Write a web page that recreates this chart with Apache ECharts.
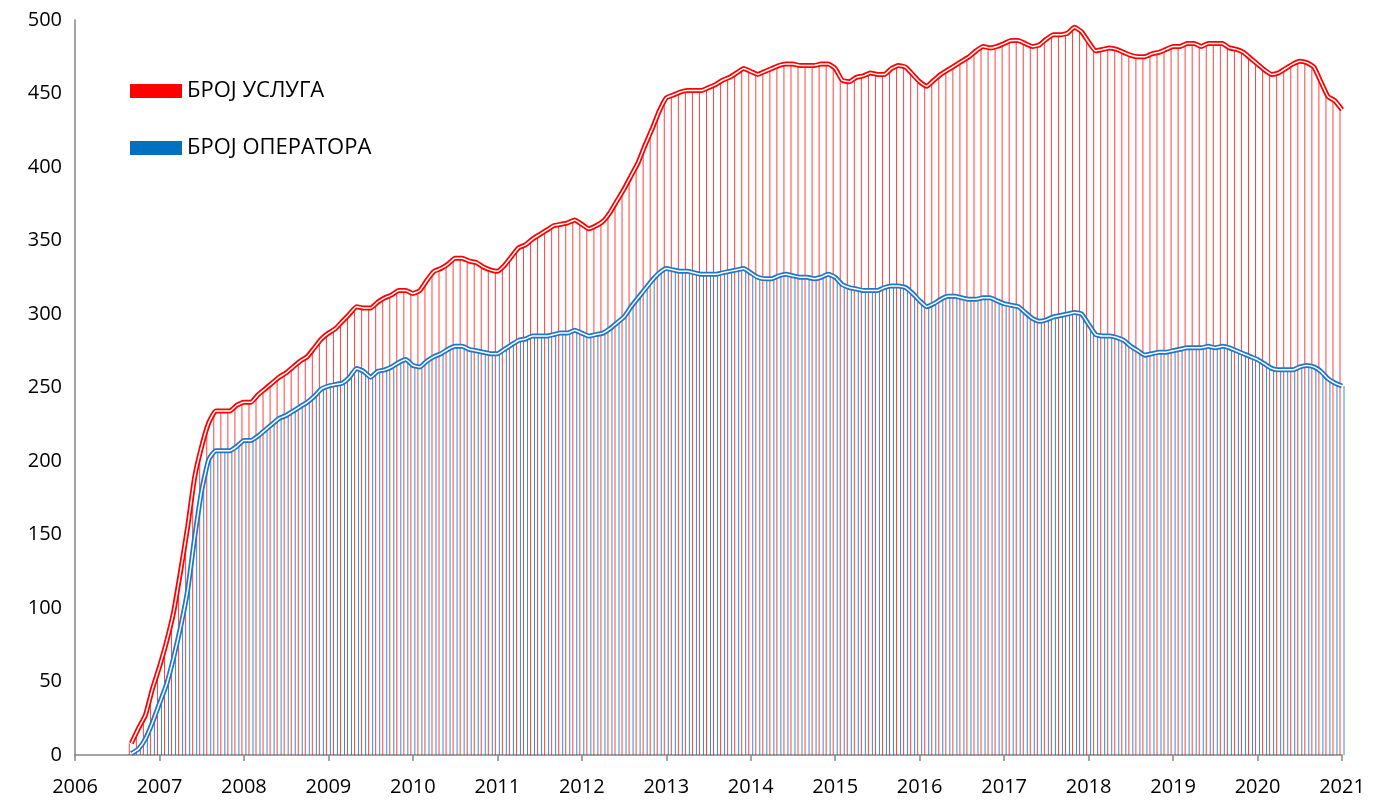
<!DOCTYPE html>
<html>
<head>
<meta charset="utf-8">
<title>Број услуга и оператора</title>
<script src="https://cdn.jsdelivr.net/npm/echarts@6/dist/echarts.min.js"></script>
<style>
  html, body { margin: 0; padding: 0; background: #fff; }
  #chart { width: 1382px; height: 803px; }
</style>
</head>
<body>
<div id="chart"></div>
<script>
// monthly data, Sep 2006 .. Jan 2021
const startYear = 2006
const startMonth = 9

const brojUsluga = [
  8, 18, 27, 45, 60, 77, 97, 125, 155, 189, 210, 226, 234, 234, 234, 238,
  240, 240, 245, 249, 253, 257, 260, 264, 268, 271, 277, 283,
  287, 290, 295, 300, 305, 304, 304, 308, 311, 313, 316, 316,
  314, 316, 323, 329, 331, 334, 338, 338, 336, 335, 332, 330,
  329, 333, 339, 345, 347, 351, 354, 357, 360, 361, 362, 364,
  361, 358, 360, 363, 369, 377, 385, 394, 403, 415, 426, 438,
  447, 449, 451, 452, 452, 452, 454, 456, 459, 461, 464, 467,
  465, 463, 465, 467, 469, 470, 470, 469, 469, 469, 470, 470,
  467, 459, 458, 461, 462, 464, 463, 463, 467, 469, 468, 463,
  458, 455, 459, 463, 466, 469, 472, 475, 479, 482, 481, 482,
  484, 486, 486, 484, 482, 483, 487, 490, 490, 491, 495, 492,
  485, 479, 480, 481, 480, 478, 476, 475, 475, 477, 478, 480,
  482, 482, 484, 484, 482, 484, 484, 484, 481, 480, 478, 474,
  470, 466, 463, 464, 467, 470, 472, 471, 468, 458, 448, 445,
  439
]

const brojOperatora = [
  1, 4, 11, 22, 35, 48, 66, 87, 112, 148, 180, 201, 207, 207, 207, 210,
  214, 214, 217, 221, 225, 229, 231, 234, 237, 240, 244, 249,
  251, 252, 253, 257, 263, 261, 257, 261, 262, 264, 267, 269,
  265, 264, 268, 271, 273, 276, 278, 278, 276, 275, 274, 273,
  273, 276, 279, 282, 283, 285, 285, 285, 286, 287, 287, 289,
  287, 285, 286, 287, 290, 294, 298, 305, 311, 317, 323, 328,
  331, 330, 329, 329, 328, 327, 327, 327, 328, 329, 330, 331,
  328, 325, 324, 324, 326, 327, 326, 325, 325, 324, 325, 327,
  325, 320, 318, 317, 316, 316, 316, 318, 319, 319, 318, 314,
  309, 305, 307, 310, 312, 312, 311, 310, 310, 311, 311, 309,
  307, 306, 305, 301, 297, 295, 296, 298, 299, 300, 301, 300,
  293, 286, 285, 285, 284, 282, 278, 275, 272, 273, 274, 274,
  275, 276, 277, 277, 277, 278, 277, 278, 277, 275, 273, 271,
  269, 266, 263, 262, 262, 262, 264, 265, 264, 261, 256, 253,
  251
]

const nameUsluga = 'БРОЈ УСЛУГА'
const nameOperatora = 'БРОЈ ОПЕРАТОРА'

// decimal year for every month
const months = brojUsluga.map((_, i) => startYear + (startMonth - 1 + i) / 12)
const pairs = (vals) => vals.map((v, i) => [months[i], v])

const font = '"Open Sans", "Noto Sans", sans-serif'
const axisGrey = '#868686'

const doubleLine = (name, data, color, z) => [
  {
    name, type: 'line', data, z,
    showSymbol: false, smooth: 0.15, silent: true,
    lineStyle: { color, width: 5 }
  },
  {
    name, type: 'line', data, z: z + 1,
    showSymbol: false, smooth: 0.15, silent: true,
    lineStyle: { color: '#ffffff', width: 1.5 }
  }
]

const chart = echarts.init(document.getElementById('chart'))
chart.setOption({
  animation: false,
  textStyle: { fontFamily: font },
  grid: { left: 75, right: 40, top: 20, bottom: 48 },
  legend: {
    orient: 'vertical',
    left: 130,
    top: 80,
    padding: 0,
    itemWidth: 52,
    itemHeight: 14,
    itemGap: 35,
    textStyle: { fontSize: 22, color: '#000', fontFamily: font },
    data: [
      { name: nameUsluga, icon: 'rect', itemStyle: { color: '#ff0000' } },
      { name: nameOperatora, icon: 'rect', itemStyle: { color: '#0070c0' } }
    ]
  },
  xAxis: {
    type: 'value',
    min: 2006,
    max: 2021,
    interval: 1,
    splitLine: { show: false },
    axisLine: { lineStyle: { color: axisGrey, width: 1.5 } },
    axisTick: { show: true, length: 6, lineStyle: { color: axisGrey, width: 1.5 } },
    axisLabel: {
      fontSize: 20, color: '#000', margin: 22,
      formatter: (v) => String(v)
    }
  },
  yAxis: {
    type: 'value',
    min: 0,
    max: 500,
    interval: 50,
    splitLine: { show: false },
    axisLine: { show: true, lineStyle: { color: axisGrey, width: 1.5 } },
    axisTick: { show: false },
    axisLabel: { fontSize: 20, color: '#000', margin: 13 }
  },
  series: [
    {
      name: nameUsluga, type: 'bar', data: pairs(brojUsluga), z: 2,
      barWidth: 1, barGap: '300%', silent: true,
      itemStyle: { color: 'rgba(255,0,0,0.75)' }
    },
    {
      name: nameOperatora, type: 'bar', data: pairs(brojOperatora), z: 2,
      barWidth: 1, barGap: '300%', silent: true,
      itemStyle: { color: 'rgba(0,112,192,0.8)' }
    },
    ...doubleLine(nameUsluga, pairs(brojUsluga), '#ff0000', 3),
    ...doubleLine(nameOperatora, pairs(brojOperatora), '#1f77c8', 5)
  ]
})
</script>
</body>
</html>
